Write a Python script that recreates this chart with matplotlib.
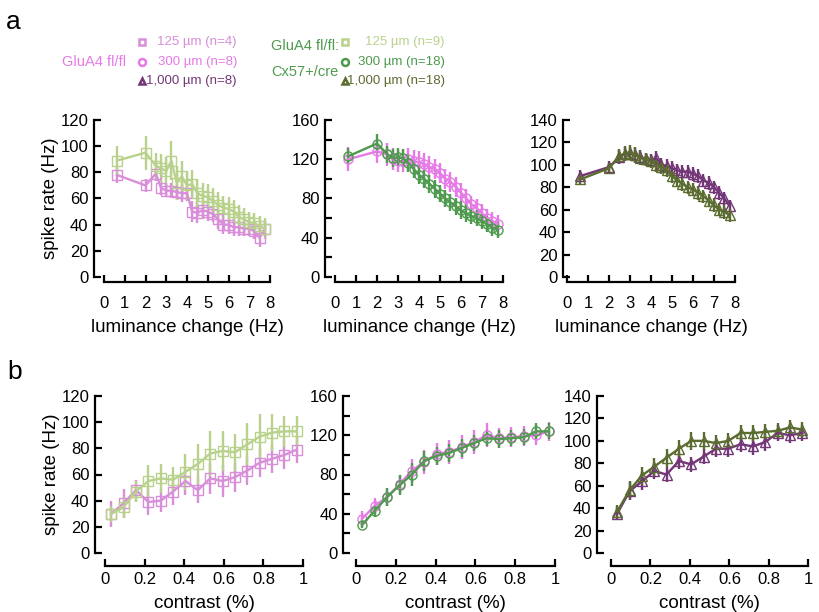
import numpy as np
import matplotlib
matplotlib.use('Agg')
import matplotlib.pyplot as plt

plt.rcParams['font.family'] = ['Liberation Sans', 'DejaVu Sans']

# luminance change (Hz) x positions
lum_x = [0.625, 2, 2.5, 2.75, 3, 3.25, 3.5, 3.75, 4, 4.25, 4.5, 4.75,
         5, 5.25, 5.5, 5.75, 6, 6.25, 6.5, 6.75, 7, 7.25, 7.5, 7.75]
# contrast x positions
con_x = [0.03125, 0.09375, 0.15625, 0.21875, 0.28125, 0.34375, 0.40625, 0.46875,
         0.53125, 0.59375, 0.65625, 0.71875, 0.78125, 0.84375, 0.90625, 0.96875]

# panel a, 125 um
a125_flfl = [78, 70, 79, 68, 66, 66, 65, 64, 64, 50, 49, 51, 50, 48, 44, 40, 40, 38, 38, 37, 37, 35, 30, 37]
a125_flfl_err = [6, 5, 6, 5, 5, 6, 6, 7, 6, 8, 8, 7, 7, 6, 7, 7, 7, 7, 7, 6, 6, 6, 7, 6]
a125_cx = [89, 95, 85, 83, 81, 89, 72, 77, 70, 71, 64, 62, 61, 58, 55, 53, 52, 50, 46, 44, 42, 41, 39, 37]
a125_cx_err = [11, 13, 10, 11, 11, 15, 13, 12, 11, 11, 11, 10, 10, 10, 10, 9, 9, 9, 9, 9, 8, 8, 8, 8]
# panel a, 300 um
a300_flfl = [120, 128, 125, 120, 118, 118, 120, 118, 117, 115, 112, 110, 106, 100, 97, 92, 86, 80, 74, 70, 65, 60, 57, 54]
a300_flfl_err = [12, 12, 12, 11, 11, 11, 11, 11, 11, 11, 11, 10, 10, 10, 10, 10, 10, 10, 9, 9, 9, 9, 9, 9]
a300_cx = [123, 136, 125, 121, 122, 121, 116, 110, 104, 100, 95, 90, 85, 80, 76, 72, 68, 65, 62, 60, 57, 54, 50, 48]
a300_cx_err = [8, 10, 9, 9, 9, 9, 9, 9, 9, 9, 9, 9, 9, 9, 9, 9, 9, 9, 8, 8, 8, 8, 8, 8]
# panel a, 1000 um
a1000_flfl = [90, 98, 107, 110, 110, 109, 107, 105, 104, 106, 100, 99, 97, 95, 94, 94, 92, 90, 86, 84, 80, 75, 70, 63]
a1000_flfl_err = [5, 5, 6, 6, 6, 6, 6, 6, 6, 6, 6, 6, 6, 6, 6, 6, 6, 6, 6, 6, 6, 6, 6, 6]
a1000_cx = [87, 97, 108, 110, 111, 109, 106, 105, 103, 100, 98, 95, 90, 86, 83, 80, 78, 75, 72, 68, 64, 60, 58, 55]
a1000_cx_err = [5, 5, 6, 7, 7, 7, 6, 6, 6, 6, 6, 6, 6, 6, 6, 6, 6, 6, 6, 6, 6, 6, 6, 6]

# panel b, 125 um
b125_flfl = [30, 38, 48, 39, 40, 47, 55, 48, 57, 55, 58, 63, 69, 72, 75, 79]
b125_flfl_err = [10, 11, 8, 10, 9, 10, 11, 10, 12, 12, 11, 11, 11, 11, 11, 10]
b125_cx = [30, 35, 47, 55, 57, 56, 62, 68, 76, 78, 77, 83, 89, 92, 93, 93]
b125_cx_err = [6, 8, 8, 12, 11, 10, 14, 15, 17, 15, 14, 16, 17, 14, 12, 12]
# panel b, 300 um
b300_flfl = [35, 48, 57, 70, 84, 93, 101, 103, 108, 113, 120, 117, 118, 119, 120, 124]
b300_flfl_err = [8, 8, 9, 10, 12, 12, 11, 12, 12, 12, 12, 10, 10, 10, 10, 10]
b300_cx = [29, 43, 57, 69, 80, 94, 99, 102, 107, 112, 117, 116, 117, 118, 124, 124]
b300_cx_err = [4, 6, 9, 10, 12, 10, 9, 9, 9, 8, 8, 9, 8, 8, 8, 8]
# panel b, 1000 um
b1000_flfl = [35, 55, 64, 73, 70, 82, 79, 86, 93, 93, 97, 95, 99, 107, 105, 107]
b1000_flfl_err = [6, 8, 8, 7, 7, 7, 7, 7, 7, 7, 7, 8, 8, 7, 7, 7]
b1000_cx = [37, 56, 69, 77, 85, 93, 100, 100, 98, 100, 107, 107, 108, 109, 112, 110]
b1000_cx_err = [6, 8, 8, 8, 8, 8, 8, 8, 7, 7, 7, 7, 7, 7, 7, 7]

# colours
c_p125, c_p300, c_p1000 = '#d88ed8', '#e67ae6', '#733677'
c_g125, c_g300, c_g1000 = '#b8d28c', '#4e9a4e', '#5b6c30'

W, H = 820, 612
fig = plt.figure(figsize=(W / 100, H / 100), dpi=100)


def make_ax(x0, x1, ytop, ybot, left_off, bot_off, xpad):
    # axes box given in pixels
    ax = fig.add_axes([x0 / W, 1 - ybot / H, (x1 - x0) / W, (ybot - ytop) / H])
    for s in ['top', 'right']:
        ax.spines[s].set_visible(False)
    ax.spines['left'].set_position(('outward', left_off * 0.72))
    ax.spines['bottom'].set_position(('outward', bot_off * 0.72))
    ax.spines['left'].set_linewidth(1.6)
    ax.spines['bottom'].set_linewidth(1.6)
    ax.tick_params(which='both', direction='in', length=5, width=1.6, labelsize=12)
    ax.tick_params(axis='y', pad=4)
    ax.tick_params(axis='x', pad=xpad)
    ax.patch.set_alpha(0)
    return ax


def draw(ax, x, y, e, c, m):
    ax.errorbar(x, y, yerr=e, color=c, marker=m, mfc='none', mec=c, ms=6.5, mew=1,
                lw=1.7, elinewidth=1.7, capsize=0, clip_on=False)


# ---- row a ----
ax1 = make_ax(104, 270, 120, 277, 10, 5, 10)
draw(ax1, lum_x, a125_flfl, a125_flfl_err, c_p125, 's')
draw(ax1, lum_x, a125_cx, a125_cx_err, c_g125, 's')
ax1.set_ylim(0, 120)
ax1.set_yticks(range(0, 121, 20))
ax1.set_ylabel('spike rate (Hz)', fontsize=13.5, labelpad=1)

ax2 = make_ax(335, 503, 120, 277, 10, 5, 10)
draw(ax2, lum_x, a300_flfl, a300_flfl_err, c_p300, 'o')
draw(ax2, lum_x, a300_cx, a300_cx_err, c_g300, 'o')
ax2.set_ylim(0, 160)
ax2.set_yticks(range(0, 161, 40))
ax2.set_yticks(range(0, 161, 20), minor=True)

ax3 = make_ax(567, 735, 120, 277, 4, 5, 10)
draw(ax3, lum_x, a1000_flfl, a1000_flfl_err, c_p1000, '^')
draw(ax3, lum_x, a1000_cx, a1000_cx_err, c_g1000, '^')
ax3.set_ylim(0, 140)
ax3.set_yticks(range(0, 141, 20))

for ax in [ax1, ax2, ax3]:
    ax.set_xlim(0, 8)
    ax.set_xticks(range(0, 9))
    ax.set_xlabel('luminance change (Hz)', fontsize=13.5, labelpad=5.5)

# ---- row b ----
bx1 = make_ax(105, 303, 396, 553, 10, 12.5, 5)
draw(bx1, con_x, b125_flfl, b125_flfl_err, c_p125, 's')
draw(bx1, con_x, b125_cx, b125_cx_err, c_g125, 's')
bx1.set_ylim(0, 120)
bx1.set_yticks(range(0, 121, 20))
bx1.set_ylabel('spike rate (Hz)', fontsize=13.5, labelpad=1)

bx2 = make_ax(356, 555, 396, 553, 12.5, 12.5, 5)
draw(bx2, con_x, b300_flfl, b300_flfl_err, c_p300, 'o')
draw(bx2, con_x, b300_cx, b300_cx_err, c_g300, 'o')
bx2.set_ylim(0, 160)
bx2.set_yticks(range(0, 161, 40))
bx2.set_yticks(range(0, 161, 20), minor=True)

bx3 = make_ax(611, 808.5, 396, 553, 14, 12.5, 5)
draw(bx3, con_x, b1000_flfl, b1000_flfl_err, c_p1000, '^')
draw(bx3, con_x, b1000_cx, b1000_cx_err, c_g1000, '^')
bx3.set_ylim(0, 140)
bx3.set_yticks(range(0, 141, 20))

for ax in [bx1, bx2, bx3]:
    ax.set_xlim(0, 1)
    ax.set_xticks([0, 0.2, 0.4, 0.6, 0.8, 1])
    ax.set_xticklabels(['0', '0.2', '0.4', '0.6', '0.8', '1'])
    ax.set_xlabel('contrast (%)', fontsize=13.5, labelpad=5.5)

# ---- legend + panel letters on an overlay in pixel coords ----
ov = fig.add_axes([0, 0, 1, 1])
ov.set_xlim(0, W)
ov.set_ylim(H, 0)
ov.axis('off')
ov.patch.set_alpha(0)

ov.text(13, 22, 'a', fontsize=19, ha='center', va='center')
ov.text(15, 372, 'b', fontsize=19, ha='center', va='center')

grp_fs = 10.5
item_fs = 9.5
leg_y = [42, 62, 81]
ov.text(126, 62, 'GluA4 fl/fl', color=c_p300, fontsize=grp_fs, ha='right', va='center')
left_items = [('s', c_p125, '125 µm (n=4)'), ('o', c_p300, '300 µm (n=8)'),
              ('^', c_p1000, '1,000 µm (n=8)')]
for (m, c, t), yy in zip(left_items, leg_y):
    ov.plot([142], [yy], marker=m, color=c, mfc='none', ms=5, mew=1.8)
    ov.text(237, yy, t, color=c, fontsize=item_fs, ha='right', va='center')

ov.text(271, 46, 'GluA4 fl/fl:', color=c_g300, fontsize=grp_fs, ha='left', va='center')
ov.text(271, 72, 'Cx57+/cre', color=c_g300, fontsize=grp_fs, ha='left', va='center')
right_items = [('s', c_g125, '125 µm (n=9)'), ('o', c_g300, '300 µm (n=18)'),
               ('^', c_g1000, '1,000 µm (n=18)')]
for (m, c, t), yy in zip(right_items, leg_y):
    ov.plot([345], [yy], marker=m, color=c, mfc='none', ms=5, mew=1.8)
    ov.text(445, yy, t, color=c, fontsize=item_fs, ha='right', va='center')

fig.savefig('out.png', dpi=100)
